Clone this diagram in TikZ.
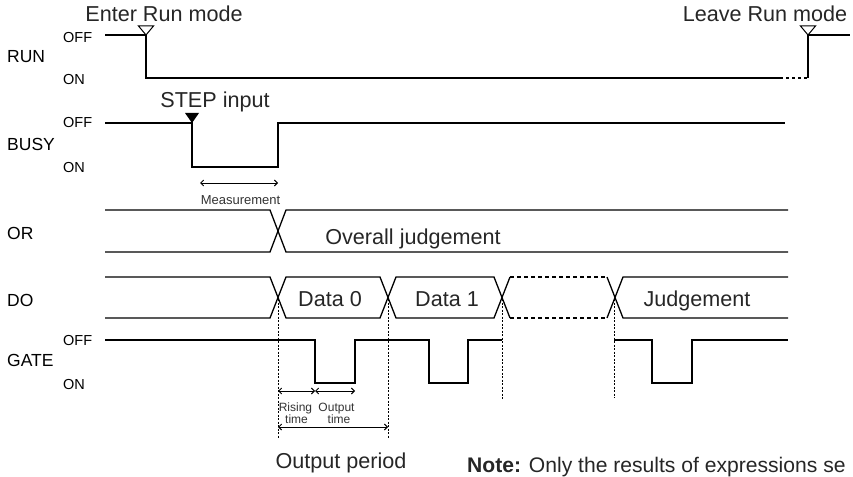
\documentclass[tikz,border=0pt]{standalone}
\usepackage{fontspec}
\setmainfont{Liberation Sans}
\usetikzlibrary{arrows.meta}
\begin{document}
\begin{tikzpicture}[x=1pt,y=-1pt,
  sig/.style={line width=1.3pt, line join=miter},
  dsig/.style={line width=1.3pt, dash pattern=on 4pt off 3pt},
  dots/.style={line width=1pt, dash pattern=on 2pt off 1.5pt},
  dimarrow/.style={line width=0.9pt, {Straight Barb[length=3pt,width=6pt]}-{Straight Barb[length=3pt,width=6pt]}},
  big/.style={font=\fontsize{21.6}{23}\selectfont, inner sep=0pt, anchor=base, text=black!85},
  lab/.style={font=\fontsize{17.5}{19}\selectfont, inner sep=0pt, anchor=base west},
  lvl/.style={font=\fontsize{14.5}{16}\selectfont, inner sep=0pt, anchor=base west},
  small/.style={font=\fontsize{13}{13}\selectfont, inner sep=0pt, anchor=base, text=black!80},
  tiny/.style={font=\fontsize{12}{12}\selectfont, inner sep=0pt, anchor=base, text=black!80},
]
\useasboundingbox (0,0) rectangle (853,476);

% ---------- labels ----------
\node[lab] (lrun) at (7,63) {RUN};
\node[lvl] (lrunoff) at (63,43) {OFF};
\node[lvl] (lrunon) at (63,85) {ON};
\node[lab] (lbusy) at (7,150) {BUSY};
\node[lvl] (lbusyoff) at (63,128) {OFF};
\node[lvl] (lbusyon) at (63,172) {ON};
\node[lab] (lor) at (7,239) {OR};
\node[lab] (ldo) at (7,306.5) {DO};
\node[lab] (lgate) at (7,366.5) {GATE};
\node[lvl] (lgateoff) at (63,345.5) {OFF};
\node[lvl] (lgateon) at (63,389) {ON};

% ---------- RUN ----------
\draw[sig] (105,35) -- (146,35) -- (146,78) -- (780,78);
\draw[sig, dash pattern=on 3pt off 3pt] (780,78) -- (808,78);
\draw[sig] (808,78) -- (808,35) -- (850,35);
\draw[line width=1pt, fill=white] (146,35) -- (138.5,26) -- (153.5,26) -- cycle;
\draw[line width=1pt, fill=white] (808,35) -- (800.5,26) -- (815.5,26) -- cycle;
\node[big] (enter) at (164,22) {Enter Run mode};
\node[big] (leave) at (765,22) {Leave Run mode};

% ---------- BUSY ----------
\draw[sig] (105,123) -- (192,123) -- (192,167) -- (278,167) -- (278,123) -- (785,123);
\fill (192,123) -- (185,113) -- (199,113) -- cycle;
\node[big] (step) at (215,108) {STEP input};
\coordinate (m1) at (200,183);
\coordinate (m2) at (278,183);
\draw[dimarrow] (m1) -- (m2);
\node[small] (meas) at (240.5,204) {Measurement};

% ---------- OR ----------
\draw[sig] (105,210) -- (270,210) -- (286,252) -- (788,252);
\draw[sig] (105,252) -- (270,252) -- (286,210) -- (788,210);
\node[big] (overall) at (413,244) {Overall judgement};

% ---------- DO ----------
\draw[sig] (105,277) -- (270,277) -- (286,318) -- (380,318) -- (396,277) -- (494,277) -- (510,318);
\draw[sig] (105,318) -- (270,318) -- (286,277) -- (380,277) -- (396,318) -- (494,318) -- (510,277);
\draw[dsig] (510,277) -- (607,277);
\draw[dsig] (510,318) -- (607,318);
\draw[sig] (607,277) -- (623,318) -- (788,318);
\draw[sig] (607,318) -- (623,277) -- (788,277);
\node[big] (d0) at (330,306) {Data 0};
\node[big] (d1) at (447,306) {Data 1};
\node[big] (judg) at (697,306) {Judgement};

% ---------- dotted guides ----------
\coordinate (x1a) at (278,299); \coordinate (x1b) at (278,438);
\coordinate (x2a) at (388,299); \coordinate (x2b) at (388,438);
\coordinate (x3a) at (502,299); \coordinate (x3b) at (502,400);
\coordinate (x4a) at (614,299); \coordinate (x4b) at (614,398);
\draw[dots] (x1a) -- (x1b);
\draw[dots] (x2a) -- (x2b);
\draw[dots] (x3a) -- (x3b);
\draw[dots] (x4a) -- (x4b);

% ---------- GATE ----------
\draw[sig] (105,340) -- (315,340) -- (315,383) -- (355,383) -- (355,340) -- (429,340) -- (429,383) -- (468,383) -- (468,340) -- (502,340);
\draw[sig] (614,340) -- (652,340) -- (652,383) -- (692,383) -- (692,340) -- (788,340);

% ---------- timing arrows ----------
\coordinate (r1) at (278,391); \coordinate (r2) at (315,391); \coordinate (r3) at (355,391);
\draw[dimarrow] (r1) -- (r2);
\draw[dimarrow] (r2) -- (r3);
\node[tiny] (rising) at (295.5,411) {Rising};
\node[tiny] (rtime) at (296.5,423.5) {time};
\node[tiny] (output) at (336.5,411) {Output};
\node[tiny] (otime) at (339,423.5) {time};
\coordinate (p1) at (278,427); \coordinate (p2) at (388,427);
\draw[dimarrow] (p1) -- (p2);
\node[big] (operiod) at (341,468) {Output period};

% ---------- note ----------
\node[font=\fontsize{21.1}{23}\selectfont, inner sep=0pt, anchor=base west, text=black!85] (note) at (467,472) {\textbf{Note:} Only the results of expressions se};
\end{tikzpicture}
\end{document}
